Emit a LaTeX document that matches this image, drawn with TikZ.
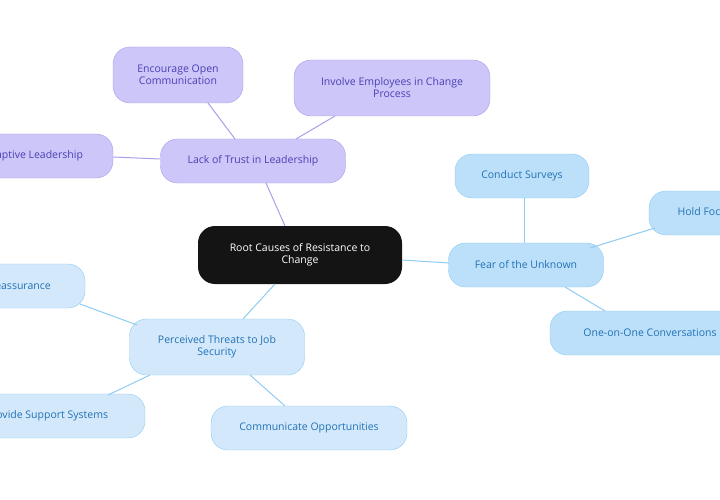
\documentclass[tikz,border=0pt]{standalone}
\usepackage{fontspec}
\setmainfont{Open Sans}
\begin{document}
\begin{tikzpicture}[x=1pt,y=-1pt,
  base/.style={rounded corners=17pt,align=center,font=\fontsize{10.5}{12}\selectfont,inner sep=0pt},
  pur/.style={base,fill=purc,draw=purd,text=purt},
  blu/.style={base,fill=bluc,draw=blud,text=blut},
  lbl/.style={base,fill=lblc,draw=blud,text=blut},
  pe/.style={draw=purd,line width=1pt},
  be/.style={draw=blud,line width=1pt}]
\definecolor{purc}{HTML}{CCC7F8}
\definecolor{purd}{HTML}{A99EEA}
\definecolor{purt}{HTML}{4B3FB5}
\definecolor{bluc}{HTML}{BCE0FA}
\definecolor{lblc}{HTML}{D3E8FB}
\definecolor{blud}{HTML}{8FCBF2}
\definecolor{blut}{HTML}{2272B5}
\useasboundingbox (0,0) rectangle (720,500);
\clip (0,0) rectangle (720,500);
\node[base,fill=black!92,text=white,minimum width=204pt,minimum height=58pt] (root) at (300,255) {Root Causes of Resistance to\\Change};
\node[pur,minimum width=185pt,minimum height=44pt] (lt) at (253,161) {Lack of Trust in Leadership};
\node[pur,minimum width=130pt,minimum height=56pt] (eo) at (178,75) {Encourage Open\\Communication};
\node[pur,minimum width=196pt,minimum height=56pt] (ie) at (392,88) {Involve Employees in Change\\Process};
\node[pur,minimum width=160pt,minimum height=44pt] (al) at (33,156) {Adaptive Leadership};
\node[blu,minimum width=155pt,minimum height=44pt] (fu) at (526,265) {Fear of the Unknown};
\node[blu,minimum width=134pt,minimum height=44pt] (cs) at (522,176) {Conduct Surveys};
\node[blu,minimum width=150pt,minimum height=44pt] (hf) at (724,213) {Hold Focus Groups};
\node[blu,minimum width=200pt,minimum height=44pt] (oc) at (650,333) {One-on-One Conversations};
\node[lbl,minimum width=175pt,minimum height=56pt] (pt) at (217,347) {Perceived Threats to Job\\Security};
\node[lbl,minimum width=170pt,minimum height=44pt] (pr) at (0,286) {Provide Reassurance};
\node[lbl,minimum width=196pt,minimum height=44pt] (ps) at (47,416) {Provide Support Systems};
\node[lbl,minimum width=196pt,minimum height=44pt] (co) at (309,428) {Communicate Opportunities};
\draw[pe] (285,226) -- (266,183);
\draw[pe] (235,139) -- (208,103);
\draw[pe] (296,139) -- (335,116);
\draw[pe] (160,159) -- (113,157);
\draw[be] (402,260) -- (449,263);
\draw[be] (524,243) -- (524,198);
\draw[be] (590,248) -- (655,228);
\draw[be] (565,287) -- (605,311);
\draw[be] (275,284) -- (243,319);
\draw[be] (137,325) -- (80,304);
\draw[be] (150,375) -- (108,395);
\draw[be] (250,375) -- (285,406);
\end{tikzpicture}
\end{document}
